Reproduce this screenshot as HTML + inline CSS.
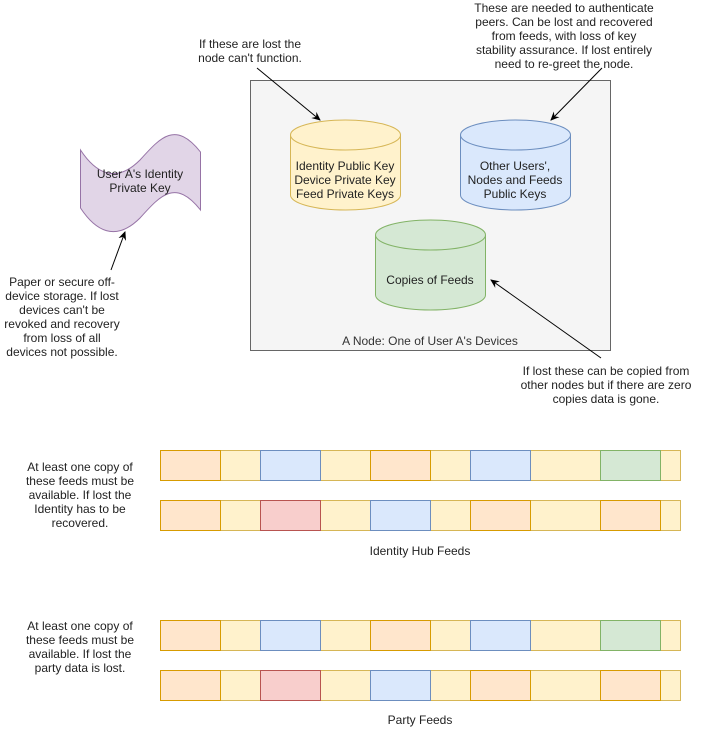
<!DOCTYPE html>
<html><head><meta charset="utf-8"><style>
html,body{margin:0;padding:0;background:#fff;}
svg{display:block;font-family:"Liberation Sans",Arial,sans-serif;}
</style></head><body>
<svg width="701" height="731" viewBox="0 0 701 731" xmlns="http://www.w3.org/2000/svg">
<defs>
<marker id="ar" markerWidth="10" markerHeight="10" refX="8" refY="5" orient="auto" markerUnits="userSpaceOnUse">
<path d="M0,1 L9,5 L0,9 L3,5 Z" fill="#000"/>
</marker>
</defs>
<rect x="250.5" y="80.5" width="360" height="270" fill="#f5f5f5" stroke="#666"/>
<text x="430" y="345" font-size="12" fill="#333" text-anchor="middle">A Node: One of User A's Devices</text>

<g stroke-width="1">
<path d="M290.5,135 A55,15 0 0 1 400.5,135 L400.5,195 A55,15 0 0 1 290.5,195 Z" fill="#fff2cc" stroke="#d6b656"/>
<path d="M290.5,135 A55,15 0 0 0 400.5,135" fill="none" stroke="#d6b656"/>
<path d="M460.5,135 A55,15 0 0 1 570.5,135 L570.5,195 A55,15 0 0 1 460.5,195 Z" fill="#dae8fc" stroke="#6c8ebf"/>
<path d="M460.5,135 A55,15 0 0 0 570.5,135" fill="none" stroke="#6c8ebf"/>
<path d="M375.5,235 A55,15 0 0 1 485.5,235 L485.5,295 A55,15 0 0 1 375.5,295 Z" fill="#d5e8d4" stroke="#82b366"/>
<path d="M375.5,235 A55,15 0 0 0 485.5,235" fill="none" stroke="#82b366"/>
</g>
<g font-size="12" fill="#222" text-anchor="middle">
<text x="345" y="170">Identity Public Key</text>
<text x="345" y="184">Device Private Key</text>
<text x="345" y="198">Feed Private Keys</text>
<text x="515" y="170">Other Users',</text>
<text x="515" y="184">Nodes and Feeds</text>
<text x="515" y="198">Public Keys</text>
<text x="430" y="284">Copies of Feeds</text>
</g>

<path d="M80.5,150 C95,172 115,185 140,160 C160,138 175,120 200.5,152 L200.5,210 C175,178 160,196 140,218 C115,243 95,230 80.5,208 Z" fill="#e1d5e7" stroke="#9673a6"/>
<text x="140" y="178" font-size="12" fill="#222" text-anchor="middle">User A's Identity</text>
<text x="140" y="192" font-size="12" fill="#222" text-anchor="middle">Private Key</text>

<g stroke="#000" stroke-width="1" marker-end="url(#ar)">
<line x1="257" y1="68" x2="320" y2="120"/>
<line x1="602" y1="68" x2="551" y2="120"/>
<line x1="601" y1="358" x2="491" y2="280"/>
<line x1="111" y1="270" x2="125" y2="232"/>
</g>

<g font-size="12" fill="#222" text-anchor="middle">
<text x="250" y="48">If these are lost the</text>
<text x="250" y="62">node can't function.</text>
<text x="564" y="12">These are needed to authenticate</text>
<text x="564" y="26">peers. Can be lost and recovered</text>
<text x="564" y="40">from feeds, with loss of key</text>
<text x="564" y="54">stability assurance. If lost entirely</text>
<text x="564" y="68">need to re-greet the node.</text>
<text x="62" y="286">Paper or secure off-</text>
<text x="62" y="300">device storage. If lost</text>
<text x="62" y="314">devices can't be</text>
<text x="62" y="328">revoked and recovery</text>
<text x="62" y="342">from loss of all</text>
<text x="62" y="356">devices not possible.</text>
<text x="606" y="375">If lost these can be copied from</text>
<text x="606" y="389">other nodes but if there are zero</text>
<text x="606" y="403">copies data is gone.</text>
<text x="80" y="471">At least one copy of</text>
<text x="80" y="485">these feeds must be</text>
<text x="80" y="499">available. If lost the</text>
<text x="80" y="513">Identity has to be</text>
<text x="80" y="527">recovered.</text>
<text x="420" y="555">Identity Hub Feeds</text>
<text x="80" y="630">At least one copy of</text>
<text x="80" y="644">these feeds must be</text>
<text x="80" y="658">available. If lost the</text>
<text x="80" y="672">party data is lost.</text>
<text x="420" y="724">Party Feeds</text>
</g>

<g id="rowA">
<rect x="160.5" y="450.5" width="520" height="30" fill="#fff2cc" stroke="#d6b656"/>
<rect x="160.5" y="450.5" width="60" height="30" fill="#ffe6cc" stroke="#d79b00"/>
<rect x="260.5" y="450.5" width="60" height="30" fill="#dae8fc" stroke="#6c8ebf"/>
<rect x="370.5" y="450.5" width="60" height="30" fill="#ffe6cc" stroke="#d79b00"/>
<rect x="470.5" y="450.5" width="60" height="30" fill="#dae8fc" stroke="#6c8ebf"/>
<rect x="600.5" y="450.5" width="60" height="30" fill="#d5e8d4" stroke="#82b366"/>
</g>
<g id="rowB">
<rect x="160.5" y="500.5" width="520" height="30" fill="#fff2cc" stroke="#d6b656"/>
<rect x="160.5" y="500.5" width="60" height="30" fill="#ffe6cc" stroke="#d79b00"/>
<rect x="260.5" y="500.5" width="60" height="30" fill="#f8cecc" stroke="#b85450"/>
<rect x="370.5" y="500.5" width="60" height="30" fill="#dae8fc" stroke="#6c8ebf"/>
<rect x="470.5" y="500.5" width="60" height="30" fill="#ffe6cc" stroke="#d79b00"/>
<rect x="600.5" y="500.5" width="60" height="30" fill="#ffe6cc" stroke="#d79b00"/>
</g>
<use href="#rowA" y="170"/>
<use href="#rowB" y="170"/>
</svg>
</body></html>
